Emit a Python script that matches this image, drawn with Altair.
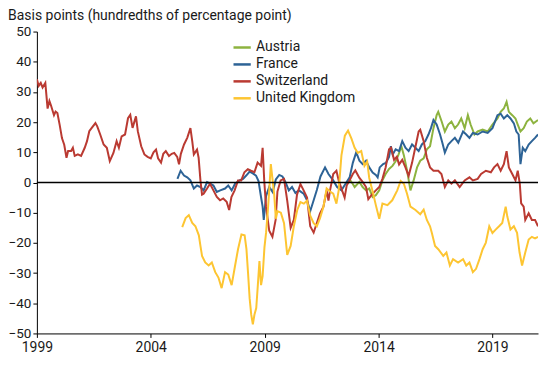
import altair as alt
import pandas as pd

# ---- data (decimal years, basis points) ----
categories = ["Austria", "France", "Switzerland", "United Kingdom"]
colors = ["#8DB33F", "#2D6396", "#BA3A32", "#FDC532"]

che_years = [1999.00, 1999.08, 1999.17, 1999.25, 1999.37, 1999.47, 1999.55, 1999.62, 1999.75, 1999.82,
             1999.90, 2000.00, 2000.10, 2000.20, 2000.30, 2000.37, 2000.50, 2000.58, 2000.66, 2000.80,
             2000.94, 2001.10, 2001.20, 2001.30, 2001.40, 2001.57, 2001.65, 2001.78, 2001.93, 2002.07,
             2002.20, 2002.36, 2002.50, 2002.60, 2002.72, 2002.87, 2003.00, 2003.10, 2003.20, 2003.35,
             2003.43, 2003.58, 2003.72, 2003.86, 2004.00, 2004.12, 2004.23, 2004.32, 2004.45, 2004.55,
             2004.66, 2004.80, 2004.92, 2005.03, 2005.16, 2005.24, 2005.32, 2005.46, 2005.60, 2005.74,
             2005.82, 2005.89, 2006.03, 2006.10, 2006.18, 2006.25, 2006.32, 2006.47, 2006.60, 2006.75,
             2006.90, 2007.04, 2007.18, 2007.33, 2007.44, 2007.54, 2007.68, 2007.83, 2007.97, 2008.11,
             2008.26, 2008.40, 2008.55, 2008.69, 2008.84, 2008.91, 2008.98, 2009.06, 2009.20, 2009.34,
             2009.48, 2009.56, 2009.70, 2009.85, 2009.99, 2010.14, 2010.28, 2010.42, 2010.57, 2010.71,
             2010.86, 2011.00, 2011.15, 2011.29, 2011.43, 2011.58, 2011.72, 2011.80, 2011.87, 2012.01,
             2012.15, 2012.25, 2012.37, 2012.51, 2012.60, 2012.73, 2012.87, 2012.98, 2013.16, 2013.30,
             2013.45, 2013.55, 2013.74, 2013.88, 2014.03, 2014.17, 2014.31, 2014.46, 2014.55, 2014.68,
             2014.80, 2014.90, 2015.04, 2015.18, 2015.32, 2015.47, 2015.61, 2015.76, 2015.83, 2015.98,
             2016.12, 2016.26, 2016.41, 2016.62, 2016.76, 2016.91, 2017.06, 2017.20, 2017.35, 2017.56,
             2017.78, 2017.99, 2018.14, 2018.35, 2018.50, 2018.71, 2018.93, 2019.07, 2019.22, 2019.36,
             2019.50, 2019.62, 2019.72, 2019.87, 2020.01, 2020.11, 2020.20, 2020.26, 2020.37, 2020.44,
             2020.59, 2020.73, 2020.87, 2021.00]
che_vals = [34.2, 32.0, 33.0, 31.5, 33.0, 24.5, 27.0, 25.5, 22.3, 23.5,
            23.0, 19.1, 14.7, 12.5, 8.2, 10.4, 10.4, 11.5, 8.8, 9.3,
            8.8, 11.5, 13.7, 17.0, 18.0, 19.7, 18.6, 15.9, 12.6, 11.5,
            7.1, 9.8, 13.7, 11.5, 15.3, 15.9, 21.3, 22.4, 18.1, 21.9,
            17.0, 12.0, 9.3, 8.5, 8.0, 10.0, 10.9, 8.0, 6.6, 9.5,
            10.4, 8.8, 9.5, 9.8, 8.5, 6.0, 9.5, 12.6, 14.8, 18.0,
            13.7, 9.3, 10.9, 8.2, 0.7, -4.0, -3.7, -2.0, -0.4, -2.6,
            -4.8, -5.9, -5.3, -6.4, -9.1, -4.8, -2.6, 0.7, 0.7, 3.4,
            4.4, 3.9, 3.4, 6.6, 5.5, 11.5, 0.7, -8.0, -16.0, -18.0,
            -12.4, -3.0, 0.7, 1.2, -6.0, -15.0, -12.4, -4.0, -0.5, -2.6,
            -5.0, -14.5, -16.6, -13.4, -10.2, -8.0, -2.6, -6.0, -2.6, 2.8,
            3.9, 0.7, -2.0, -5.0, -1.0, 0.7, 2.8, 4.0, 1.5, 0.2,
            -1.5, -5.5, -3.7, -2.6, -1.5, 1.2, 5.0, 11.0, 11.5, 7.5,
            8.5, 6.0, 7.5, 5.0, 2.2, 6.5, 11.5, 16.9, 17.5, 13.7,
            8.2, 5.0, 3.9, 3.9, 2.8, -1.5, 0.7, -0.4, 0.7, -1.5,
            0.7, 1.7, 0.7, 1.2, 2.8, 3.9, 3.4, 5.0, 6.1, 3.9,
            6.1, 10.4, 5.0, 2.8, 0.7, 3.9, -0.4, -6.9, -8.0, -12.4,
            -10.2, -12.4, -12.4, -14.5]

fra_years = [2005.17, 2005.31, 2005.46, 2005.60, 2005.74, 2005.89, 2006.03, 2006.18, 2006.32, 2006.47,
             2006.61, 2006.75, 2006.90, 2007.05, 2007.26, 2007.40, 2007.55, 2007.70, 2007.90, 2008.05,
             2008.19, 2008.34, 2008.48, 2008.62, 2008.73, 2008.84, 2008.91, 2008.96, 2009.06, 2009.20,
             2009.35, 2009.49, 2009.64, 2009.78, 2009.92, 2010.06, 2010.20, 2010.35, 2010.50, 2010.71,
             2010.86, 2011.00, 2011.15, 2011.29, 2011.45, 2011.65, 2011.80, 2012.01, 2012.18, 2012.37,
             2012.55, 2012.73, 2012.87, 2013.02, 2013.16, 2013.30, 2013.45, 2013.59, 2013.74, 2013.88,
             2013.96, 2014.05, 2014.20, 2014.32, 2014.46, 2014.54, 2014.62, 2014.75, 2014.90, 2015.04,
             2015.18, 2015.32, 2015.47, 2015.62, 2015.76, 2015.90, 2016.05, 2016.19, 2016.30, 2016.41,
             2016.55, 2016.70, 2016.80, 2016.91, 2017.06, 2017.20, 2017.35, 2017.50, 2017.71, 2017.85,
             2017.99, 2018.14, 2018.35, 2018.57, 2018.79, 2019.00, 2019.22, 2019.36, 2019.50, 2019.65,
             2019.79, 2019.94, 2020.05, 2020.15, 2020.23, 2020.33, 2020.44, 2020.59, 2020.73, 2020.87,
             2021.00]
fra_vals = [1.2, 3.9, 2.3, 1.7, 0.7, -2.0, -1.0, -1.5, -2.6, 0.1,
            -0.4, -1.0, -3.1, -2.6, -2.0, -1.0, -2.6, -0.4, 0.7, 1.2,
            2.3, 3.6, 3.0, 2.3, 0.5, -4.8, -8.0, -12.4, -4.5, -1.5,
            -3.2, 1.0, 2.5, 2.0, 0.0, -2.6, -1.5, -3.5, -2.6, -3.7,
            -5.9, -9.5, -5.9, -2.5, 2.0, 5.0, 2.8, 0.7, -1.5, -2.6,
            -0.4, 1.7, 6.5, 10.0, 7.2, 6.1, 7.2, 5.0, 3.3, 2.5,
            1.7, 5.0, 6.1, 6.5, 8.5, 12.0, 9.3, 11.0, 10.4, 13.7,
            11.5, 10.4, 12.6, 11.5, 10.4, 12.6, 13.7, 15.9, 18.0, 20.7,
            19.2, 15.9, 13.2, 9.9, 12.6, 13.7, 14.8, 13.2, 16.9, 15.9,
            14.8, 16.4, 15.9, 16.9, 16.4, 18.0, 22.3, 22.8, 21.2, 22.3,
            21.2, 19.6, 16.9, 15.9, 6.1, 11.5, 10.4, 12.6, 13.7, 14.8,
            15.9]

aut_years = [2012.59, 2012.73, 2012.87, 2012.95, 2013.16, 2013.30, 2013.45, 2013.59, 2013.74, 2013.88,
             2014.03, 2014.17, 2014.31, 2014.46, 2014.61, 2014.75, 2014.88, 2015.00, 2015.11, 2015.25,
             2015.40, 2015.54, 2015.69, 2015.83, 2015.98, 2016.12, 2016.26, 2016.41, 2016.55, 2016.62,
             2016.77, 2016.91, 2017.06, 2017.20, 2017.35, 2017.49, 2017.63, 2017.78, 2017.92, 2018.04,
             2018.21, 2018.35, 2018.57, 2018.79, 2019.00, 2019.22, 2019.36, 2019.50, 2019.62, 2019.72,
             2019.87, 2020.01, 2020.11, 2020.23, 2020.37, 2020.51, 2020.66, 2020.80, 2021.00]
aut_vals = [-0.5, 1.0, -0.5, -1.5, 0.2, -1.5, -2.6, -2.0, -4.8, -4.2,
            -2.6, 0.7, 2.8, 4.5, 5.5, 7.0, 9.3, 12.0, 9.0, 4.0,
            -2.6, 0.7, 5.0, 7.2, 8.0, 11.0, 12.0, 18.0, 22.3, 23.4,
            20.2, 16.9, 19.2, 20.2, 18.0, 19.2, 21.2, 18.0, 22.3, 19.2,
            15.9, 16.9, 17.5, 16.9, 19.2, 21.2, 23.4, 24.5, 26.7, 23.4,
            22.3, 21.2, 19.2, 16.9, 18.0, 20.2, 21.2, 19.6, 20.7]

gbr_years = [2005.38, 2005.53, 2005.67, 2005.82, 2005.96, 2006.11, 2006.18, 2006.25, 2006.39, 2006.54,
             2006.68, 2006.83, 2006.97, 2007.11, 2007.26, 2007.40, 2007.55, 2007.69, 2007.83, 2007.98,
             2008.12, 2008.20, 2008.27, 2008.34, 2008.41, 2008.48, 2008.55, 2008.63, 2008.70, 2008.77,
             2008.84, 2008.91, 2008.99, 2009.06, 2009.13, 2009.20, 2009.27, 2009.35, 2009.42, 2009.49,
             2009.56, 2009.71, 2009.85, 2009.99, 2010.14, 2010.28, 2010.43, 2010.57, 2010.72, 2010.86,
             2011.00, 2011.15, 2011.29, 2011.43, 2011.58, 2011.72, 2011.87, 2012.01, 2012.15, 2012.25,
             2012.37, 2012.52, 2012.66, 2012.81, 2012.95, 2013.09, 2013.24, 2013.38, 2013.50, 2013.59,
             2013.74, 2013.88, 2014.03, 2014.17, 2014.39, 2014.60, 2014.82, 2014.97, 2015.11, 2015.25,
             2015.40, 2015.62, 2015.83, 2015.98, 2016.12, 2016.26, 2016.34, 2016.48, 2016.62, 2016.84,
             2016.98, 2017.13, 2017.27, 2017.49, 2017.71, 2017.85, 2017.99, 2018.14, 2018.28, 2018.43,
             2018.57, 2018.71, 2018.86, 2019.00, 2019.14, 2019.29, 2019.43, 2019.58, 2019.65, 2019.79,
             2019.94, 2020.08, 2020.19, 2020.30, 2020.44, 2020.59, 2020.73, 2020.87, 2021.00]
gbr_vals = [-14.8, -11.8, -10.8, -13.4, -14.5, -17.5, -21.0, -24.3, -26.5, -27.5,
            -26.5, -29.7, -31.5, -35.0, -29.7, -30.5, -34.0, -28.0, -22.1, -17.2,
            -17.5, -22.1, -30.0, -38.4, -43.8, -47.0, -43.8, -41.6, -34.0, -26.0,
            -34.0, -31.0, -21.5, -16.7, -10.2, -2.6, 6.1, 0.7, -4.2, -12.0,
            -9.5, -10.0, -13.5, -24.0, -21.0, -14.5, -9.1, -6.5, -7.0, -6.0,
            -11.0, -13.5, -14.5, -11.8, -8.0, -2.0, -3.0, -3.7, -7.0, -2.6,
            9.0, 15.5, 17.2, 14.5, 11.5, 9.8, 10.4, 5.5, 7.0, 1.5,
            -3.0, -7.5, -12.0, -7.0, -7.5, -5.9, -2.6, 0.5, -0.4, -3.7,
            -8.0, -9.1, -10.5, -9.0, -12.4, -14.5, -16.7, -21.0, -22.1, -24.3,
            -23.2, -27.5, -25.4, -26.5, -25.4, -27.5, -26.5, -29.7, -28.6, -25.4,
            -22.1, -19.9, -14.5, -16.7, -15.6, -14.5, -13.4, -8.0, -11.2, -15.6,
            -14.5, -16.7, -23.2, -27.5, -23.2, -18.9, -18.0, -18.5, -18.0]

x_ticks = [1999, 2004, 2009, 2014, 2019]
y_ticks = [-50, -40, -30, -20, -10, 0, 10, 20, 30, 40, 50]
zero_level = [0]

series = {
    "Austria": (aut_years, aut_vals),
    "France": (fra_years, fra_vals),
    "Switzerland": (che_years, che_vals),
    "United Kingdom": (gbr_years, gbr_vals),
}
rows = []
for name, (ys, vs) in series.items():
    for yv, vv in zip(ys, vs):
        rows.append({"country": name, "year": yv, "bp": vv})
df = pd.DataFrame(rows)
zero_df = pd.DataFrame({"bp": zero_level})

FONT = "Roboto"
TXT = "#1a1a1a"

x_axis = alt.Axis(values=x_ticks, format="d", title=None, grid=False, domain=True, ticks=True,
                  domainColor="black", domainWidth=1, tickColor="black", tickSize=4,
                  labelPadding=3, labelFontSize=14, labelFont=FONT, labelColor=TXT,
                  labelOverlap=False, labelFlush=False)
y_axis = alt.Axis(values=y_ticks, title=None, grid=False, domain=True, ticks=True,
                  domainColor="black", domainWidth=1, tickColor="black", tickSize=4,
                  labelPadding=2, labelFontSize=13.5, labelFont=FONT, labelColor=TXT,
                  labelOverlap=False, labelFlush=False)
x_scale = alt.Scale(domain=[1999, 2021.0], nice=False, zero=False)
y_scale = alt.Scale(domain=[-50, 50], nice=False)

lines = alt.Chart(df).mark_line(strokeWidth=2, clip=True).encode(
    x=alt.X("year:Q", scale=x_scale, axis=x_axis),
    y=alt.Y("bp:Q", scale=y_scale, axis=y_axis),
    color=alt.Color("country:N", scale=alt.Scale(domain=categories, range=colors),
                    legend=alt.Legend(orient="none", legendX=196, legendY=6, title=None,
                                      symbolType="stroke", symbolStrokeWidth=2.5, symbolSize=300,
                                      labelFontSize=14, labelFont=FONT, labelColor=TXT,
                                      rowPadding=0, labelOffset=4, padding=0)),
)

zero = alt.Chart(zero_df).mark_rule(color="black", strokeWidth=1.3).encode(
    y=alt.Y("bp:Q", scale=y_scale, axis=y_axis)
)

chart = alt.layer(lines, zero).properties(
    width=536, height=347,
    autosize=alt.AutoSizeParams(type="fit", contains="padding"),
    padding={"left": 0, "top": 0, "right": 3, "bottom": 0},
    title=alt.Title("Basis points (hundredths of percentage point)", anchor="start",
                    frame="bounds", fontSize=14, font=FONT, fontWeight="normal",
                    color=TXT, offset=2),
).configure_view(stroke=None)

chart.save("out.html", embed_options={"renderer": "svg", "actions": False})
